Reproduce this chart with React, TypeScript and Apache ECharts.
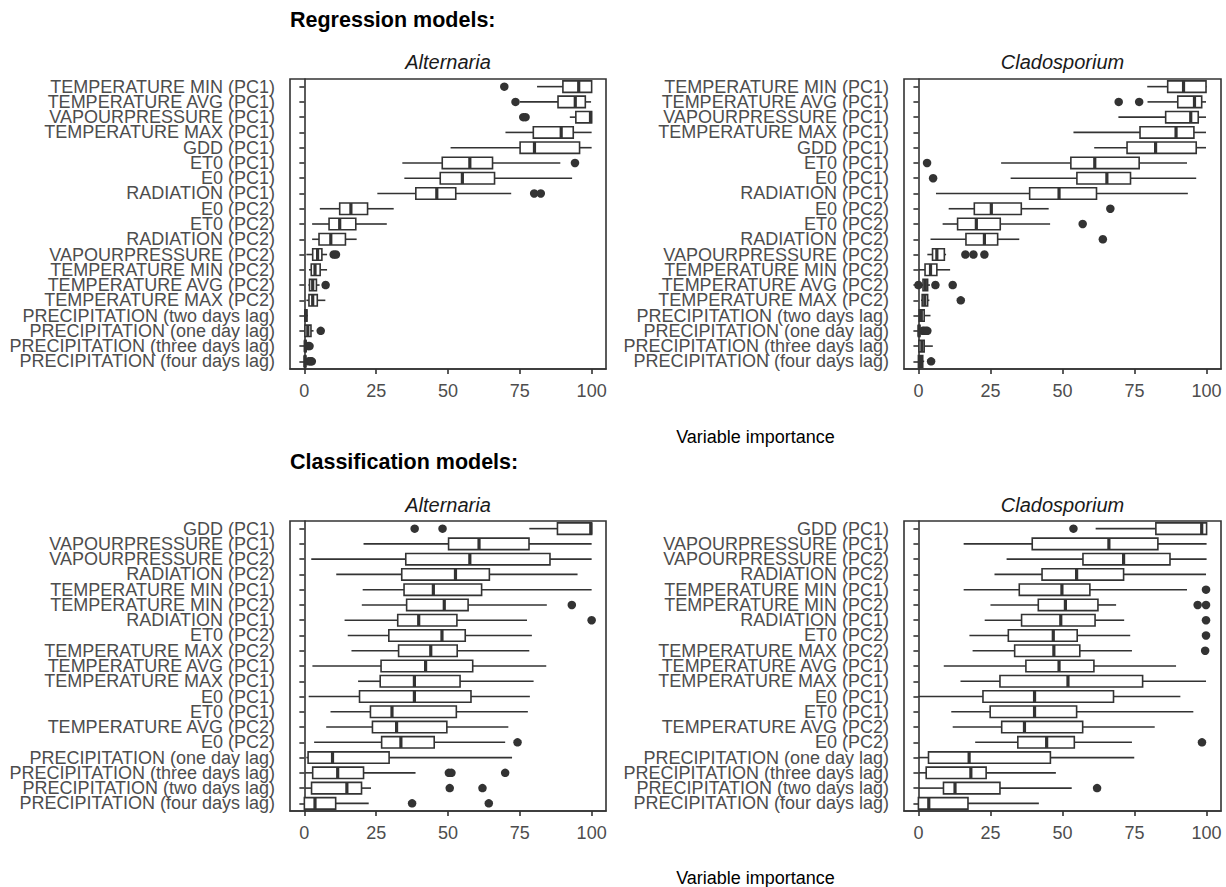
import React, { useEffect, useRef } from "react";
import * as echarts from "echarts";

// ---------- DATA ----------
const REG_LABELS = [
  "TEMPERATURE MIN (PC1)", "TEMPERATURE AVG (PC1)", "VAPOURPRESSURE (PC1)", "TEMPERATURE MAX (PC1)",
  "GDD (PC1)", "ET0 (PC1)", "E0 (PC1)", "RADIATION (PC1)", "E0 (PC2)", "ET0 (PC2)", "RADIATION (PC2)",
  "VAPOURPRESSURE (PC2)", "TEMPERATURE MIN (PC2)", "TEMPERATURE AVG (PC2)", "TEMPERATURE MAX (PC2)",
  "PRECIPITATION (two days lag)", "PRECIPITATION (one day lag)", "PRECIPITATION (three days lag)",
  "PRECIPITATION (four days lag)",
];
const CLS_LABELS = [
  "GDD (PC1)", "VAPOURPRESSURE (PC1)", "VAPOURPRESSURE (PC2)", "RADIATION (PC2)", "TEMPERATURE MIN (PC1)",
  "TEMPERATURE MIN (PC2)", "RADIATION (PC1)", "ET0 (PC2)", "TEMPERATURE MAX (PC2)", "TEMPERATURE AVG (PC1)",
  "TEMPERATURE MAX (PC1)", "E0 (PC1)", "ET0 (PC1)", "TEMPERATURE AVG (PC2)", "E0 (PC2)",
  "PRECIPITATION (one day lag)", "PRECIPITATION (three days lag)", "PRECIPITATION (two days lag)",
  "PRECIPITATION (four days lag)",
];
const X_TICKS = [0, 25, 50, 75, 100];

// [min, Q1, median, Q3, max] per category (top to bottom)
const REG_ALT_BOX = [
  [81, 90, 95.5, 100, 100], [75, 88.3, 94.3, 97.8, 99.8], [92.4, 94.5, 99.6, 100, 100], [70, 79.7, 89.4, 93.6, 100],
  [50.9, 75.1, 80.1, 95.8, 100], [34.1, 48, 57.6, 65.5, 89.1], [34.8, 47.3, 55, 66.2, 93.2], [25.4, 38.8, 46.1, 52.7, 72],
  [5.4, 12.3, 16.2, 22, 31.1], [2.7, 8.6, 12.3, 17.9, 28.7], [2.7, 5.1, 9.2, 14.3, 18.2], [0.7, 2.9, 4.6, 6.1, 7.9],
  [1.6, 2.4, 3.7, 5.5, 7.9], [1.4, 1.8, 2.9, 4.2, 5.3], [0.7, 1.6, 2.9, 4.5, 7.3], [0, 0.2, 0.5, 0.9, 1.2],
  [0, 0.2, 1.2, 2.3, 3.2], [0, 0.1, 0.3, 0.6, 1], [0, 0, 0.2, 0.5, 1],
];
const REG_ALT_OUT = [
  [69.6, 0], [73.5, 1], [76.2, 2], [77, 2], [94.2, 5], [80, 7], [82.3, 7], [10.2, 11], [11, 11], [7.4, 13],
  [5.7, 16], [1.3, 17], [1.8, 17], [1.5, 18], [2.2, 18], [2.6, 18],
];
const REG_CLA_BOX = [
  [79.4, 86.5, 92, 99.8, 100], [79.5, 90, 95.8, 98.3, 99.8], [69.4, 85.8, 94.5, 97.1, 99.8], [53.8, 76.9, 89.4, 95.6, 99.8],
  [61, 72.4, 82.3, 96.4, 99.8], [28.7, 52.9, 61.2, 76.6, 93.2], [32, 55, 65.4, 73.6, 96.4], [6.1, 38.6, 48.8, 61.8, 93.5],
  [10.5, 19.4, 25.3, 35.7, 45.2], [8.4, 13.6, 20.1, 28.4, 45.7], [4.2, 16.5, 22.9, 27.5, 35], [3.1, 4.9, 6.4, 9, 9.6],
  [0.1, 2.3, 4.2, 6.4, 11], [1.2, 1.6, 2.4, 3.2, 4], [0.9, 1.3, 2.2, 3.2, 3.8], [0, 0.3, 1, 2, 4.2],
  [0, 0, 0.2, 0.5, 1], [0, 0.2, 1.2, 2, 5], [0, 0, 0.7, 1.5, 2],
];
const REG_CLA_OUT = [
  [69.5, 1], [76.6, 1], [3, 5], [5.1, 6], [66.6, 8], [57, 9], [64, 10], [16.3, 11], [19.1, 11], [22.9, 11],
  [0, 13], [5.9, 13], [11.9, 13], [14.7, 14], [1.5, 16], [2, 16], [2.6, 16], [3.1, 16], [4.4, 18],
];
const CLS_ALT_BOX = [
  [78.3, 88.1, 99.7, 100, 100], [20.6, 50.2, 60.8, 78.2, 100], [2.4, 35.3, 57.6, 85.5, 100], [11.1, 33.9, 52.6, 64.4, 95.1],
  [20.3, 34.7, 44.9, 61.7, 100], [20, 35.6, 48.7, 57, 84.4], [14, 32.5, 39.8, 53.1, 77.5], [15.1, 29.4, 47.9, 56, 79.2],
  [16.4, 32.8, 44, 53.2, 78.3], [2.8, 26.7, 42.2, 58.6, 84.2], [18.7, 26.4, 38.3, 54.2, 79.8], [1.5, 19.2, 38.3, 58, 78.5],
  [9.1, 23, 30.5, 52.9, 77.8], [7.6, 23.7, 32.1, 49.6, 71], [3.4, 26.9, 33.6, 45.2, 69.9], [0.7, 1.3, 9.8, 29.5, 72.3],
  [0.3, 2.9, 11.6, 20.6, 38.7], [0.3, 2.5, 14.8, 19.9, 23.2], [0, 0, 3.7, 10.9, 22.4],
];
const CLS_ALT_OUT = [
  [38.4, 0], [48.1, 0], [93.1, 5], [100, 6], [74.2, 14], [50.3, 16], [51.2, 16], [69.9, 16], [50.6, 17], [62, 17],
  [37.5, 18], [64.2, 18],
];
const CLS_CLA_BOX = [
  [61.5, 82.4, 98.3, 100, 100], [15.7, 39.5, 66.1, 83.1, 100], [30.6, 57.1, 71.2, 87.3, 100], [26.4, 42.9, 54.9, 71.2, 99.8],
  [15.7, 35, 49.8, 59.5, 93.2], [25, 41.6, 51, 62.3, 68.6], [23, 35.8, 49.4, 61.3, 71.4], [17.7, 31.2, 46.8, 55.1, 73.5],
  [18.8, 33.4, 47, 56, 74.1], [8.8, 37.3, 48.8, 60.9, 89.4], [14.6, 28.3, 51.9, 77.8, 99.8], [0, 22.4, 40.3, 67.7, 90.9],
  [11.4, 24.9, 40.3, 54.9, 95.4], [11.9, 28.9, 36.8, 57, 82], [19.7, 34.5, 44.5, 54.1, 74.1], [0, 3.5, 17.6, 45.8, 74.9],
  [0.1, 2.7, 18.2, 23.5, 47.7], [0, 8.7, 12.7, 28.3, 53.2], [0, 0, 3.6, 17.2, 41.8],
];
const CLS_CLA_OUT = [
  [53.8, 0], [99.8, 4], [96.9, 5], [99.8, 5], [99.8, 6], [99.8, 7], [99.5, 8], [98.4, 14], [62, 17],
];

// ---------- STYLE ----------
const FONT = "'Liberation Sans', Arial, Helvetica, sans-serif";
const INK = "#333333";
const LBL = 18;
const LW = 1.6;

const PANELS = [
  { left: 290, top: 79, width: 316, height: 290, labels: REG_LABELS, box: REG_ALT_BOX, out: REG_ALT_OUT },
  { left: 904, top: 79, width: 317, height: 290, labels: REG_LABELS, box: REG_CLA_BOX, out: REG_CLA_OUT },
  { left: 290, top: 521, width: 316, height: 290, labels: CLS_LABELS, box: CLS_ALT_BOX, out: CLS_ALT_OUT },
  { left: 904, top: 521, width: 317, height: 290, labels: CLS_LABELS, box: CLS_CLA_BOX, out: CLS_CLA_OUT },
];

function renderBox(params: any, api: any) {
  const idx = api.value(0);
  const lo = api.coord([api.value(1), idx]);
  const q1 = api.coord([api.value(2), idx]);
  const med = api.coord([api.value(3), idx]);
  const q3 = api.coord([api.value(4), idx]);
  const hi = api.coord([api.value(5), idx]);
  const band = api.size([0, 1])[1];
  const h = band * 0.75;
  const y = lo[1];
  const ls = { stroke: INK, lineWidth: LW };
  return {
    type: "group",
    children: [
      { type: "line", shape: { x1: lo[0], y1: y, x2: q1[0], y2: y }, style: ls },
      { type: "line", shape: { x1: q3[0], y1: y, x2: hi[0], y2: y }, style: ls },
      { type: "rect", shape: { x: q1[0], y: y - h / 2, width: q3[0] - q1[0], height: h }, style: { fill: "#ffffff", stroke: INK, lineWidth: LW } },
      { type: "line", shape: { x1: med[0], y1: y - h / 2, x2: med[0], y2: y + h / 2 }, style: { stroke: INK, lineWidth: 3.2 } },
    ],
  };
}

function text(t: string, x: number, y: number, opts: any) {
  return {
    type: "text",
    x,
    y,
    style: {
      text: t,
      fontFamily: FONT,
      fill: opts.fill || "#000",
      fontSize: opts.size,
      fontWeight: opts.weight || "normal",
      fontStyle: opts.style || "normal",
      align: opts.align || "center",
      verticalAlign: "middle",
      textAlign: opts.align || "center",
      textVerticalAlign: "middle",
    },
  };
}

export default function App() {
  const ref = useRef<HTMLDivElement>(null);
  useEffect(() => {
    if (!ref.current) return;
    const chart = echarts.init(ref.current, null, { renderer: "svg" });
    const grid: any[] = [];
    const xAxis: any[] = [];
    const yAxis: any[] = [];
    const series: any[] = [];
    PANELS.forEach((p, i) => {
      grid.push({ left: p.left, top: p.top, width: p.width, height: p.height, show: true, borderColor: INK, borderWidth: LW, backgroundColor: "transparent" });
      xAxis.push({
        gridIndex: i, type: "value", min: -5, max: 105,
        axisLine: { show: true, lineStyle: { color: INK, width: LW } },
        axisTick: { show: true, length: 5, customValues: X_TICKS, lineStyle: { color: INK, width: LW } },
        axisLabel: { customValues: X_TICKS, fontSize: LBL, color: "#4D4D4D", margin: 13, fontFamily: FONT },
        splitLine: { show: false },
      });
      yAxis.push({
        gridIndex: i, type: "category", inverse: true, data: p.labels,
        axisLine: { show: true, lineStyle: { color: INK, width: LW } },
        axisTick: { show: true, length: 5, alignWithLabel: true, interval: 0, lineStyle: { color: INK, width: LW } },
        axisLabel: { interval: 0, fontSize: LBL, lineHeight: 14, color: "#4D4D4D", margin: 15, fontFamily: FONT },
        splitLine: { show: false },
      });
      series.push({
        type: "custom", xAxisIndex: i, yAxisIndex: i, renderItem: renderBox,
        encode: { x: [1, 2, 3, 4, 5], y: 0 },
        data: p.box.map((b, k) => [k, ...b]),
      });
      series.push({
        type: "scatter", xAxisIndex: i, yAxisIndex: i, symbol: "circle", symbolSize: 8.5,
        itemStyle: { color: INK, opacity: 1 },
        data: p.out,
      });
    });
    chart.setOption({
      animation: false,
      backgroundColor: "#ffffff",
      grid, xAxis, yAxis, series,
      graphic: [
        text("Regression models:", 290, 20, { size: 21.5, weight: "bold", align: "left" }),
        text("Alternaria", 448, 62, { size: 20, style: "italic", fill: "#1A1A1A" }),
        text("Cladosporium", 1062.5, 62, { size: 20, style: "italic", fill: "#1A1A1A" }),
        text("Variable importance", 755.5, 437, { size: LBL }),
        text("Classification models:", 290, 462, { size: 21.5, weight: "bold", align: "left" }),
        text("Alternaria", 448, 505, { size: 20, style: "italic", fill: "#1A1A1A" }),
        text("Cladosporium", 1062.5, 505, { size: 20, style: "italic", fill: "#1A1A1A" }),
        text("Variable importance", 755.5, 878, { size: LBL }),
      ],
    });
    return () => chart.dispose();
  }, []);
  return <div ref={ref} style={{ position: "absolute", left: 0, top: 0, width: 1226, height: 887 }} />;
}
